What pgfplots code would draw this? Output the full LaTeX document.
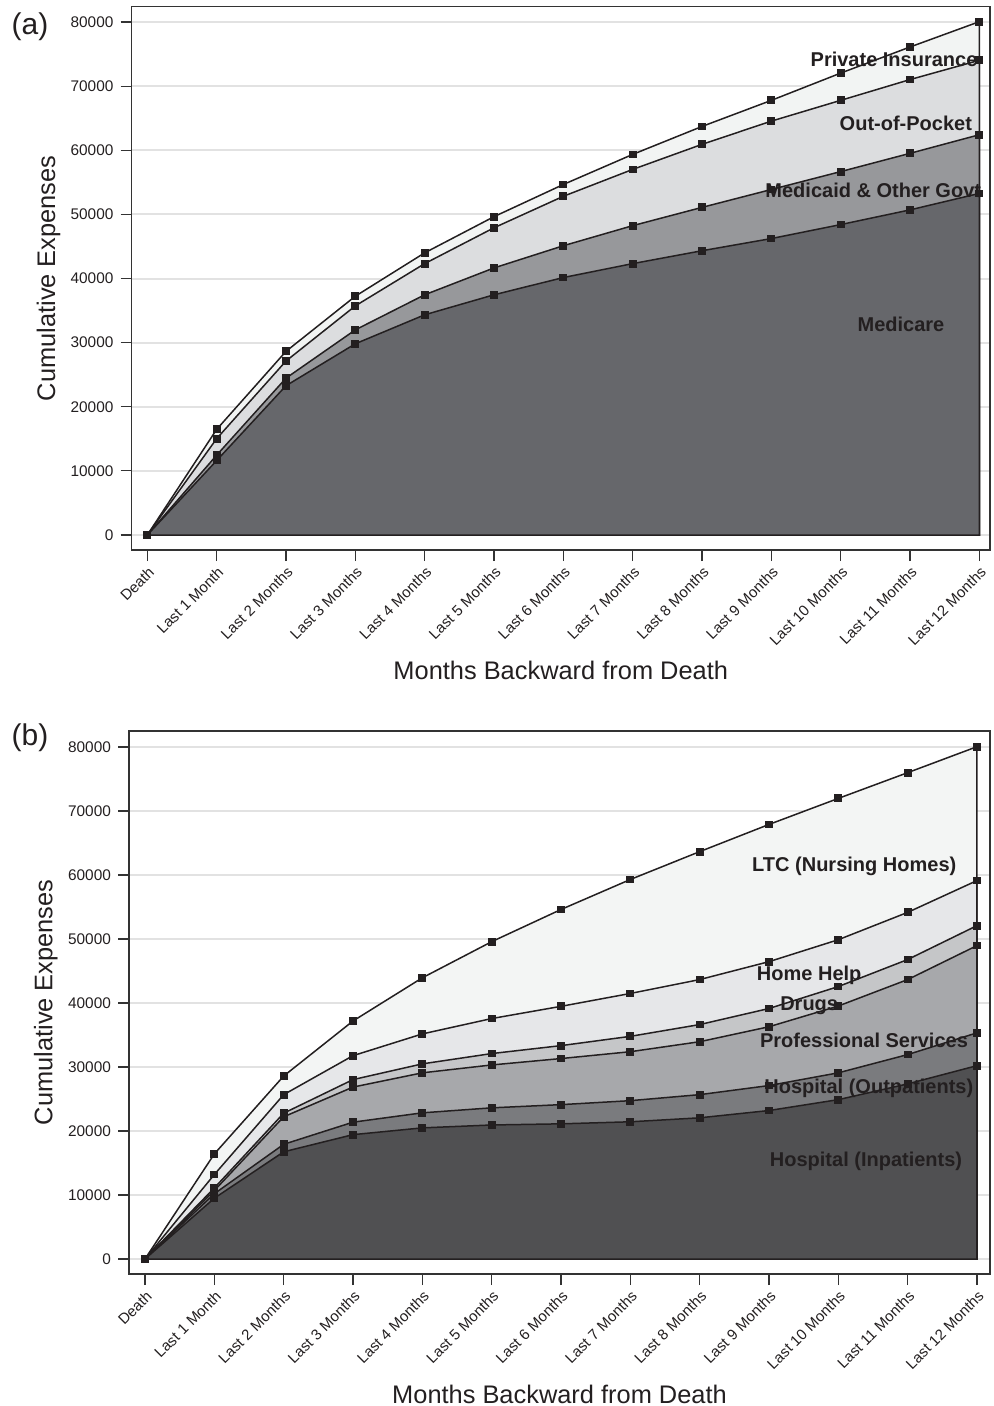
\documentclass[border=0pt]{standalone}
\usepackage{pgfplots}
\pgfplotsset{compat=1.18}
\usepackage{fontspec}
\setmainfont{Liberation Sans}
\definecolor{lc}{HTML}{231F20}
\definecolor{fr}{HTML}{333333}
\definecolor{gr}{HTML}{E2E2E2}
\definecolor{aMed}{HTML}{66676B}
\definecolor{aMcd}{HTML}{97989B}
\definecolor{aOop}{HTML}{DCDDDF}
\definecolor{aPri}{HTML}{F2F4F3}
\definecolor{bInp}{HTML}{505052}
\definecolor{bOut}{HTML}{7A7B7E}
\definecolor{bPro}{HTML}{A7A8AB}
\definecolor{bDru}{HTML}{C5C6C8}
\definecolor{bHom}{HTML}{E6E7E9}
\definecolor{bLtc}{HTML}{F3F5F4}
\tikzset{lab/.style={font=\bfseries\fontsize{10}{12}\selectfont, text=lc}}
\pgfplotsset{
 common/.style={
  scale only axis,
  axis line style={draw=fr, line width=0.8pt},
  xtick={0,...,12},
  xticklabels={Death, Last 1 Month, Last 2 Months, Last 3 Months, Last 4 Months, Last 5 Months, Last 6 Months, Last 7 Months, Last 8 Months, Last 9 Months, Last 10 Months, Last 11 Months, Last 12 Months},
  xticklabel style={rotate=45, anchor=north east, font=\fontsize{7.5}{8}\selectfont, inner sep=1.5pt, text=lc},
  ytick={0,10000,...,80000},
  yticklabel style={font=\fontsize{7.7}{9}\selectfont, text=lc},
  /pgf/number format/assume math mode=true,
  /pgf/number format/1000 sep={},
  scaled y ticks=false,
  tick align=outside, tick pos=left,
  major tick length=5.5pt,
  tick style={draw=fr, line width=0.6pt},
  ymajorgrids, grid style={draw=gr, line width=1pt},
  xlabel={Months Backward from Death}, ylabel={Cumulative Expenses},
  label style={font=\fontsize{12.7}{15}\selectfont, text=lc},
  ylabel style={at={(axis description cs:-0.0965,0.5)}, anchor=center},
  every axis plot/.append style={line width=0.75pt, draw=lc, mark=square*, mark size=1.7pt, mark options={fill=lc, draw=lc, solid, line width=0.5pt}},
 },
}
\begin{document}
\begin{tikzpicture}
\useasboundingbox (0pt,0pt) rectangle (496.5pt,-703pt);
\node[font=\fontsize{15}{18}\selectfont, text=lc] at (15pt,-13.5pt) {(a)};
\node[font=\fontsize{15}{18}\selectfont, text=lc] at (15pt,-369pt) {(b)};
% Panel (a)
\begin{axis}[common,
  at={(65.75pt,-3.25pt)}, anchor=north west,
  width=429.25pt, height=271.75pt,
  xmin=-0.228, xmax=12.154, ymin=-2339, ymax=82417,
  xlabel style={at={(axis description cs:0.5,-0.221)}, anchor=center},
]
\addplot[fill=aPri] coordinates {(0,0) (1,16470) (2,28640) (3,37240) (4,44000) (5,49640) (6,54660) (7,59350) (8,63710) (9,67780) (10,72030) (11,76100) (12,80050)} \closedcycle;
\addplot[fill=aOop] coordinates {(0,0) (1,15020) (2,27130) (3,35730) (4,42320) (5,47910) (6,52820) (7,57010) (8,60920) (9,64540) (10,67780) (11,71020) (12,74030)} \closedcycle;
\addplot[fill=aMcd] coordinates {(0,0) (1,12450) (2,24460) (3,31990) (4,37460) (5,41650) (6,45110) (7,48240) (8,51090) (9,53880) (10,56670) (11,59520) (12,62420)} \closedcycle;
\addplot[fill=aMed] coordinates {(0,0) (1,11610) (2,23280) (3,29820) (4,34340) (5,37460) (6,40150) (7,42320) (8,44330) (9,46230) (10,48410) (11,50700) (12,53270)} \closedcycle;
\node[lab] at (axis cs:10.77,74230) {Private Insurance};
\node[lab] at (axis cs:10.94,64250) {Out-of-Pocket};
\node[lab] at (axis cs:10.47,53800) {Medicaid \& Other Govt};
\node[lab] at (axis cs:10.87,32900) {Medicare};
\end{axis}
% Panel (b)
\begin{axis}[common,
  at={(64.5pt,-365.35pt)}, anchor=north west,
  width=430.5pt, height=271.65pt,
  xmin=-0.231, xmax=12.188, ymin=-2344, ymax=82547,
  xlabel style={at={(axis description cs:0.5,-0.221)}, anchor=center},
]
\addplot[fill=bLtc] coordinates {(0,0) (1,16420) (2,28590) (3,37190) (4,43940) (5,49580) (6,54610) (7,59300) (8,63650) (9,67900) (10,71970) (11,75990) (12,80050)} \closedcycle;
\addplot[fill=bHom] coordinates {(0,0) (1,13200) (2,25680) (3,31770) (4,35170) (5,37570) (6,39480) (7,41490) (8,43660) (9,46460) (10,49890) (11,54160) (12,59130)} \closedcycle;
\addplot[fill=bDru] coordinates {(0,0) (1,11100) (2,22780) (3,28030) (4,30490) (5,32100) (6,33340) (7,34790) (8,36630) (9,39140) (10,42570) (11,46790) (12,52090)} \closedcycle;
\addplot[fill=bPro] coordinates {(0,0) (1,10700) (2,22220) (3,26860) (4,29090) (5,30320) (6,31320) (7,32390) (8,33950) (9,36290) (10,39530) (11,43660) (12,48970)} \closedcycle;
\addplot[fill=bOut] coordinates {(0,0) (1,10200) (2,17920) (3,21380) (4,22840) (5,23620) (6,24120) (7,24740) (8,25680) (9,27100) (10,29090) (11,31940) (12,35340)} \closedcycle;
\addplot[fill=bInp] coordinates {(0,0) (1,9500) (2,16750) (3,19430) (4,20490) (5,20940) (6,21120) (7,21440) (8,22060) (9,23200) (10,24900) (11,27360) (12,30210)} \closedcycle;
\node[lab] at (axis cs:10.23,61400) {LTC (Nursing Homes)};
\node[lab] at (axis cs:9.58,44375) {Home Help};
\node[lab] at (axis cs:9.58,39530) {Drugs};
\node[lab] at (axis cs:10.37,34220) {Professional Services};
\node[lab] at (axis cs:10.44,26720) {Hospital (Outpatients)};
\node[lab] at (axis cs:10.40,15310) {Hospital (Inpatients)};
\end{axis}
\end{tikzpicture}
\end{document}
